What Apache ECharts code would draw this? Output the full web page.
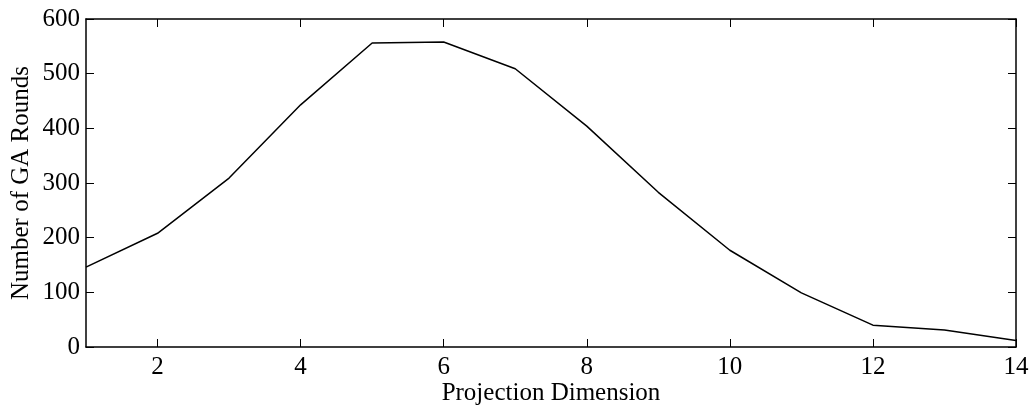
<!DOCTYPE html>
<html>
<head>
<meta charset="utf-8">
<script src="https://cdn.jsdelivr.net/npm/echarts@6/dist/echarts.min.js"></script>
<style>
  html, body { margin: 0; padding: 0; background: #fff; }
  #chart { width: 1036px; height: 408px; }
</style>
</head>
<body>
<div id="chart"></div>
<script>
// projection dimension vs GA rounds
var dims = [1, 2, 3, 4, 5, 6, 7, 8, 9, 10, 11, 12, 13, 14]
var rounds = [146, 208, 309, 443, 556, 558, 509, 404, 283, 177, 99, 40, 31, 12]
var xTicks = [2, 4, 6, 8, 10, 12, 14]

var font = 'Liberation Serif'
var chart = echarts.init(document.getElementById('chart'))

var axisLine = { show: true, onZero: false, lineStyle: { color: '#000', width: 1.5 } }
var tick = { show: true, inside: true, length: 8, lineStyle: { color: '#000', width: 1 } }

chart.setOption({
  animation: false,
  grid: { left: 86, right: 20, top: 19, bottom: 61, outerBoundsMode: 'none', containLabel: false },
  xAxis: [{
    type: 'value', min: 1, max: 14,
    name: 'Projection Dimension', nameLocation: 'middle', nameGap: 34, nameMoveOverlap: false,
    nameTextStyle: { fontFamily: font, fontSize: 25, color: '#000' },
    axisLine: axisLine,
    axisTick: Object.assign({}, tick, { customValues: xTicks }),
    axisLabel: { customValues: xTicks, fontFamily: font, fontSize: 25, color: '#000', margin: 8 },
    splitLine: { show: false }
  }, {
    type: 'value', min: 1, max: 14, position: 'top',
    axisLine: axisLine,
    axisTick: Object.assign({}, tick, { customValues: xTicks }),
    axisLabel: { show: false },
    splitLine: { show: false }
  }],
  yAxis: [{
    type: 'value', min: 0, max: 600, interval: 100,
    name: 'Number of GA Rounds', nameLocation: 'middle', nameGap: 52, nameMoveOverlap: false,
    nameTextStyle: { fontFamily: font, fontSize: 25, color: '#000' },
    axisLine: axisLine, axisTick: tick,
    axisLabel: { fontFamily: font, fontSize: 25, color: '#000', margin: 6 },
    splitLine: { show: false }
  }, {
    type: 'value', min: 0, max: 600, interval: 100, position: 'right',
    axisLine: axisLine, axisTick: tick,
    axisLabel: { show: false },
    splitLine: { show: false }
  }],
  series: [{
    type: 'line',
    data: dims.map((d, i) => [d, rounds[i]]),
    symbol: 'none',
    lineStyle: { color: '#000', width: 1.5 }
  }]
})
</script>
</body>
</html>
